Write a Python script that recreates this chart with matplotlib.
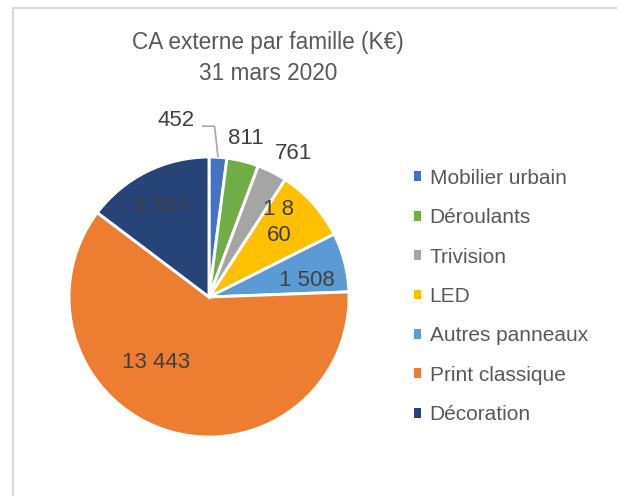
import math
import matplotlib
matplotlib.use("Agg")
import matplotlib.pyplot as plt
from matplotlib.lines import Line2D
from matplotlib.patches import Rectangle

families = ["Mobilier urbain", "Déroulants", "Trivision", "LED",
            "Autres panneaux", "Print classique", "Décoration"]
values = [452, 811, 761, 1860, 1508, 13443, 3247]
colors = ["#4472C4", "#70AD47", "#A5A5A5", "#FFC000",
          "#5B9BD5", "#ED7D31", "#264478"]

# label placement: radius (pie units) and clockwise angle shift from the slice middle
label_r = [1.28, 1.16, 1.19, 0.73, 0.71, 0.60, 0.73]
label_shift = [-14.3, -0.8, 3.5, -5.0, 5.0, 21.7, -1.7]

plt.rcParams["font.family"] = ["Liberation Sans", "DejaVu Sans"]

W, H = 617, 496
fig = plt.figure(figsize=(W / 100, H / 100), dpi=100)

# chart frame (top and left edges visible in the crop)
fig.add_artist(Line2D([13 / W, 13 / W], [0, 1 - 8 / H], color="#D9D9D9", lw=1.5))
fig.add_artist(Line2D([13 / W, 1], [1 - 8 / H, 1 - 8 / H], color="#D9D9D9", lw=1.5))

cx, cy, rad = 209, 297, 140
ax = fig.add_axes([(cx - rad) / W, (H - cy - rad) / H, 2 * rad / W, 2 * rad / H])

wedges, _ = ax.pie(values, colors=colors, startangle=90, counterclock=False,
                   wedgeprops=dict(edgecolor="white", linewidth=2.1))
ax.set_xlim(-1, 1)
ax.set_ylim(-1, 1)
ax.set_aspect("equal")
ax.set_axis_off()


def fmt(v):
    return f"{v:,}".replace(",", " ")


texts = [fmt(v) for v in values]
texts[3] = "1 8\n60"  # wrapped as in the original

for w, txt, r, sh in zip(wedges, texts, label_r, label_shift):
    mid = (w.theta1 + w.theta2) / 2 - sh
    x = r * math.cos(math.radians(mid))
    y = r * math.sin(math.radians(mid))
    ax.text(x, y, txt, ha="center", va="center", fontsize=16,
            color="#404040", linespacing=1.35, clip_on=False)

# leader line for the smallest slice
w0 = wedges[0]
m0 = math.radians((w0.theta1 + w0.theta2) / 2)
ex, ey = math.cos(m0), math.sin(m0)
ax.plot([ex, 0.04, -0.05], [ey, 1.22, 1.22], color="#A6A6A6", lw=1.2,
        clip_on=False, solid_capstyle="butt")

fig.text(268 / W, 1 - 58 / H, "CA externe par famille (K€)\n31 mars 2020",
         ha="center", va="center", fontsize=16.3, color="#595959", linespacing=1.5)

handles = [Rectangle((0, 0), 1, 1, facecolor=c, edgecolor="none") for c in colors]
fig.legend(handles, families, loc="center left", bbox_to_anchor=(414 / W, 1 - 296.5 / H),
           frameon=False, fontsize=15, labelcolor="#595959",
           handlelength=0.35, handleheight=0.35, handletextpad=0.4,
           labelspacing=0.98, borderpad=0, borderaxespad=0)

fig.savefig("out.png", dpi=100)
